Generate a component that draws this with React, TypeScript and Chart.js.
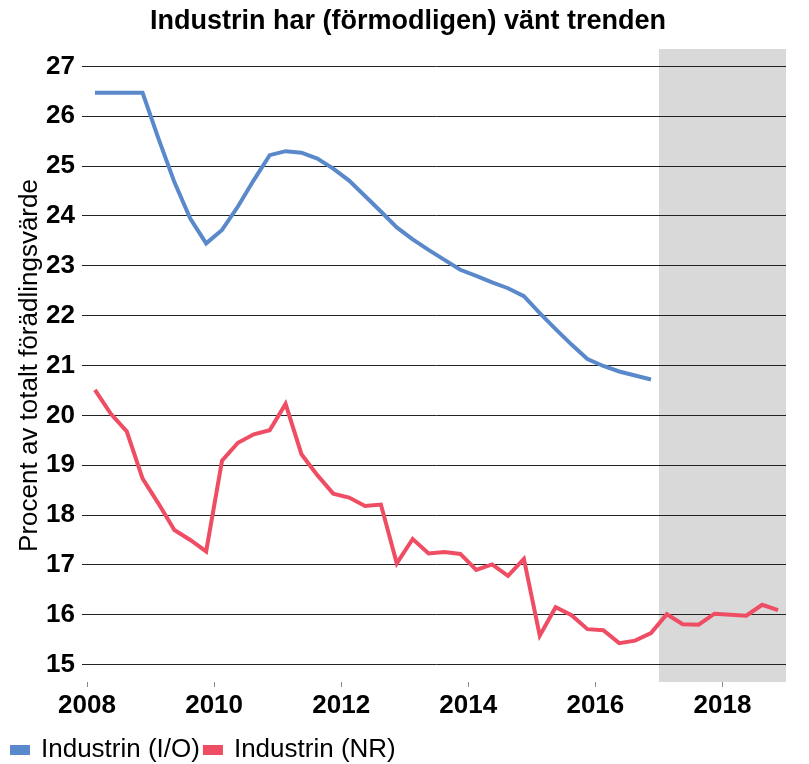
import React, { useEffect, useRef } from 'react';
import { Chart, registerables } from 'chart.js';

Chart.register(...registerables);

const TITLE = 'Industrin har (förmodligen) vänt trenden';
const Y_TITLE = 'Procent av totalt förädlingsvärde';
const SERIES_IO = 'Industrin (I/O)';
const SERIES_NR = 'Industrin (NR)';

// Quarterly categories (year-quarter)
const quarters: string[] = [
  '2008K1', '2008K2', '2008K3', '2008K4',
  '2009K1', '2009K2', '2009K3', '2009K4',
  '2010K1', '2010K2', '2010K3', '2010K4',
  '2011K1', '2011K2', '2011K3', '2011K4',
  '2012K1', '2012K2', '2012K3', '2012K4',
  '2013K1', '2013K2', '2013K3', '2013K4',
  '2014K1', '2014K2', '2014K3', '2014K4',
  '2015K1', '2015K2', '2015K3', '2015K4',
  '2016K1', '2016K2', '2016K3', '2016K4',
  '2017K1', '2017K2', '2017K3', '2017K4',
  '2018K1', '2018K2', '2018K3', '2018K4',
];

const industrinIO: number[] = [
  26.47, 26.47, 26.47, 26.47,
  25.55, 24.68, 23.95, 23.45,
  23.72, 24.19, 24.72, 25.22,
  25.30, 25.27, 25.15, 24.95,
  24.71, 24.40, 24.09, 23.77,
  23.53, 23.32, 23.12, 22.92,
  22.80, 22.67, 22.55, 22.39,
  22.05, 21.73, 21.42, 21.13,
  20.99, 20.88, 20.80, 20.72,
];

const industrinNR: number[] = [
  20.51, 20.03, 19.68, 18.73,
  18.23, 17.70, 17.50, 17.27,
  19.09, 19.45, 19.62, 19.70,
  20.23, 19.22, 18.80, 18.43,
  18.35, 18.18, 18.21, 17.03,
  17.52, 17.23, 17.26, 17.22,
  16.90, 17.01, 16.78, 17.12,
  15.58, 16.15, 15.99, 15.71,
  15.69, 15.43, 15.48, 15.63,
  16.01, 15.81, 15.80, 16.02,
  16.00, 15.98, 16.20, 16.09,
];

const xTickYears: number[] = [2008, 2010, 2012, 2014, 2016, 2018];
const yTickValues: number[] = [15, 16, 17, 18, 19, 20, 21, 22, 23, 24, 25, 26, 27];
const X_MIN = 2008;
const X_MAX = 2019;
const Y_MIN = 14.65;
const Y_MAX = 27.35;
const SHADE_FROM = 2017;
const SHADE_TO = 2019;

const quarterToYear = (q: string): number => {
  const y = parseInt(q.slice(0, 4), 10);
  const k = parseInt(q.slice(5), 10);
  return y + (k - 0.5) / 4;
};

const toPoints = (vals: number[]) =>
  vals.map((v, i) => ({ x: quarterToYear(quarters[i]), y: v }));

const FONT = "'Liberation Sans', Arial, sans-serif";

const shadePlugin = {
  id: 'shadeForecast',
  beforeDraw(chart: any) {
    const { ctx, chartArea, scales } = chart;
    const x = scales.x;
    if (!x || !chartArea) return;
    const x0 = x.getPixelForValue(SHADE_FROM);
    const x1 = x.getPixelForValue(SHADE_TO);
    ctx.save();
    ctx.fillStyle = '#D9D9D9';
    ctx.fillRect(x0, chartArea.top, x1 - x0, chartArea.bottom - chartArea.top);
    ctx.restore();
  },
};

export default function App() {
  const canvasRef = useRef<HTMLCanvasElement | null>(null);

  useEffect(() => {
    document.body.style.margin = '0';
    document.body.style.overflow = 'hidden';
    const canvas = canvasRef.current;
    if (!canvas) return;
    const chart = new Chart(canvas, {
      type: 'line',
      data: {
        datasets: [
          {
            label: SERIES_IO,
            data: toPoints(industrinIO),
            borderColor: '#5A89CB',
            backgroundColor: '#5A89CB',
            borderWidth: 4,
            pointRadius: 0,
            tension: 0,
            fill: false,
          },
          {
            label: SERIES_NR,
            data: toPoints(industrinNR),
            borderColor: '#EE4D63',
            backgroundColor: '#EE4D63',
            borderWidth: 4,
            pointRadius: 0,
            tension: 0,
            fill: false,
          },
        ],
      },
      options: {
        animation: false,
        responsive: false,
        maintainAspectRatio: false,
        layout: { padding: { left: 7, right: 0, top: 0, bottom: 0 } },
        plugins: {
          title: {
            display: true,
            text: TITLE,
            color: '#000',
            font: { family: FONT, size: 27, weight: 'bold' },
            padding: { top: 5, bottom: 11.6 },
          },
          legend: {
            display: true,
            position: 'bottom',
            align: 'start',
            labels: {
              color: '#000',
              font: { family: FONT, size: 26 },
              boxWidth: 16,
              boxHeight: 6,
              padding: 5,
            },
          },
          tooltip: { enabled: false },
        },
        scales: {
          x: {
            type: 'linear',
            min: X_MIN,
            max: X_MAX,
            afterBuildTicks: (scale: any) => {
              scale.ticks = xTickYears.map((v) => ({ value: v }));
            },
            afterFit: (scale: any) => {
              scale.height = 50;
            },
            ticks: {
              color: '#000',
              font: { family: FONT, size: 26, weight: 'bold' },
              padding: 3,
              maxRotation: 0,
              autoSkip: false,
              callback: (v: any) => String(v),
            },
            grid: {
              drawOnChartArea: false,
              drawTicks: true,
              tickLength: 5,
              color: '#888',
            },
            border: { display: false },
          },
          y: {
            type: 'linear',
            min: Y_MIN,
            max: Y_MAX,
            afterBuildTicks: (scale: any) => {
              scale.ticks = yTickValues.map((v) => ({ value: v }));
            },
            afterFit: (scale: any) => {
              scale.width = 80;
            },
            ticks: {
              color: '#000',
              font: { family: FONT, size: 26, weight: 'bold' },
              padding: 7,
              autoSkip: false,
              callback: (v: any) => String(v),
            },
            grid: {
              color: '#222',
              lineWidth: 1,
              drawTicks: true,
              tickLength: 5,
            },
            border: { display: false },
            title: {
              display: true,
              text: Y_TITLE,
              color: '#000',
              font: { family: FONT, size: 26 },
              padding: { top: 7, bottom: 0 },
            },
          },
          yRight: {
            type: 'linear',
            position: 'right',
            min: Y_MIN,
            max: Y_MAX,
            afterFit: (scale: any) => {
              scale.width = 23;
            },
            ticks: { display: false },
            grid: { display: false },
            border: { display: false },
          },
        },
      },
      plugins: [shadePlugin],
    });
    return () => chart.destroy();
  }, []);

  return (
    <div style={{ width: 809, height: 764, overflow: 'hidden' }}>
      <canvas ref={canvasRef} width={809} height={773} style={{ display: 'block' }} />
    </div>
  );
}
